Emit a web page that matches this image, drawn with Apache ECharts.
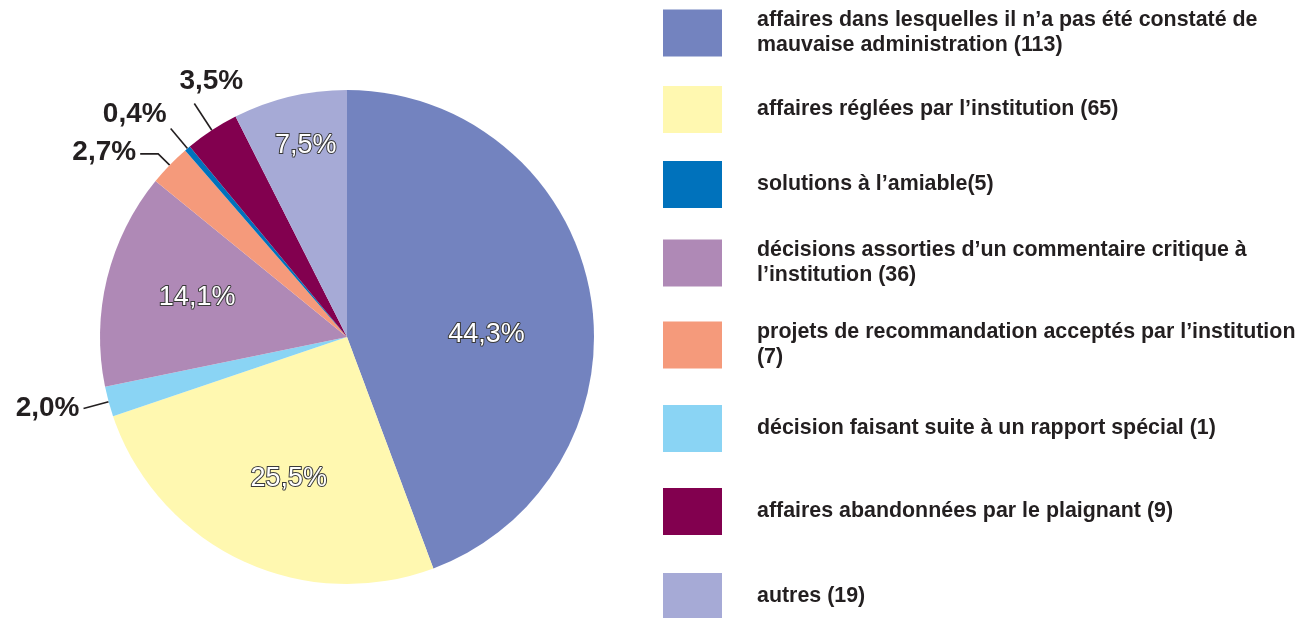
<!DOCTYPE html>
<html>
<head>
<meta charset="utf-8">
<script src="https://cdn.jsdelivr.net/npm/echarts@6/dist/echarts.min.js"></script>
<style>
html,body{margin:0;padding:0;background:#fff;}
#main{width:1309px;height:618px;}
</style>
</head>
<body>
<div id="main"></div>
<script>
// données
var categories = [
    'affaires dans lesquelles il n\u2019a pas été constaté de\nmauvaise administration (113)',
    'affaires réglées par l\u2019institution (65)',
    'solutions à l\u2019amiable(5)',
    'décisions assorties d\u2019un commentaire critique à\nl\u2019institution (36)',
    'projets de recommandation acceptés par l\u2019institution\n(7)',
    'décision faisant suite à un rapport spécial (1)',
    'affaires abandonnées par le plaignant (9)',
    'autres (19)'
];
var values = [113, 65, 5, 36, 7, 1, 9, 19];

// couleurs des parts (dans le graphique, les 3e et 6e sont inversées par rapport à la légende)
var sliceColors = ['#7383bf', '#fff8b0', '#8ad4f4', '#af89b6', '#f59a7b', '#0072bc', '#82004f', '#a6aad6'];
var legendColors = ['#7383bf', '#fff8b0', '#0072bc', '#af89b6', '#f59a7b', '#8ad4f4', '#82004f', '#a6aad6'];

// mise en page
var insideIdx = [0, 1, 3, 7];
var labelShift = {0: [15, 20], 1: [-4, 27], 3: [-27, -9], 7: [-12, -68], 4: [0, -2], 6: [21, -8]};
var legendTops = [3, 81, 156, 233, 315, 400, 483, 568];
var textColor = '#231f20';
var font = 'Liberation Sans, Arial, sans-serif';

var total = values.reduce(function (a, b) { return a + b; }, 0);

var pieData = values.map(function (v, i) {
    var inside = insideIdx.indexOf(i) >= 0;
    var item = {
        value: v,
        name: categories[i],
        itemStyle: {color: sliceColors[i]}
    };
    if (inside) {
        item.label = {
            position: 'inside',
            color: '#fff',
            fontSize: 27,
            fontWeight: 'normal',
            textBorderColor: '#3a3a3a',
            textBorderWidth: 2
        };
        item.labelLine = {show: false};
    } else {
        item.label = {
            position: 'outside',
            color: textColor,
            fontSize: 28,
            fontWeight: 'bold',
            distanceToLabelLine: 4
        };
        item.labelLine = {
            show: true,
            length: i === 6 ? 32 : (i === 4 ? 16 : 26),
            length2: i === 4 ? 18 : 0,
            lineStyle: {color: textColor, width: 1.6}
        };
    }
    return item;
});

var legends = categories.map(function (name, i) {
    return {
        orient: 'vertical',
        left: 658,
        top: legendTops[i],
        itemWidth: 59,
        itemHeight: 47,
        selectedMode: false,
        icon: 'rect',
        data: [{name: name, itemStyle: {color: legendColors[i]}}],
        textStyle: {
            fontFamily: font,
            fontSize: 21.4,
            fontWeight: 'bold',
            color: textColor,
            lineHeight: 25,
            padding: [0, 0, 0, 30]
        }
    };
});

var chart = echarts.init(document.getElementById('main'));
chart.setOption({
    animation: false,
    textStyle: {fontFamily: font},
    legend: legends,
    series: [{
        type: 'pie',
        center: [347, 337],
        radius: 247,
        startAngle: 90,
        clockwise: true,
        avoidLabelOverlap: false,
        data: pieData,
        label: {
            fontFamily: font,
            formatter: function (p) {
                return (p.value / total * 100).toFixed(1).replace('.', ',') + '%';
            }
        },
        labelLayout: function (params) {
            var i = params.dataIndex;
            var s = labelShift[i] || [0, 0];
            var o = {dx: s[0], dy: s[1]};
            if (i === 5) { o.verticalAlign = 'bottom'; }
            if (i === 6) { o.verticalAlign = 'bottom'; o.align = 'center'; }
            return o;
        },
        emphasis: {disabled: true}
    }]
});
</script>
</body>
</html>
